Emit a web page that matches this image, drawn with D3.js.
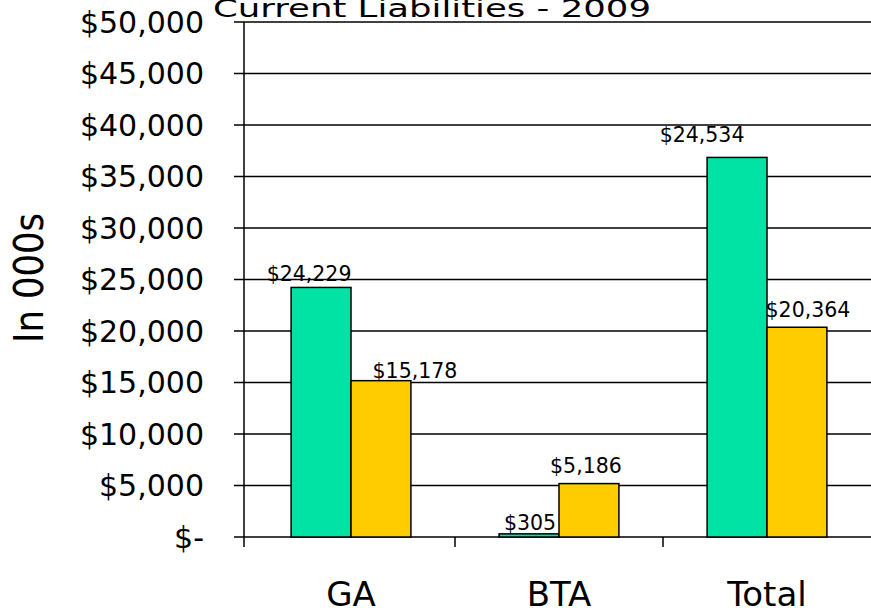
<!DOCTYPE html>
<html>
<head>
<meta charset="utf-8">
<script src="https://cdn.jsdelivr.net/npm/d3@7"></script>
<style>
  body { margin: 0; background: #fff; }
  text { font-family: "DejaVu Sans", Verdana, sans-serif; fill: #000; }
</style>
</head>
<body>
<div id="barChart"></div>
<script>
// Chart values
const categories = ["GA", "BTA", "Total"];
const seriesNames = ["s1", "s2"];
const tealValues = [24229, 305, 36850];
const yellowValues = [15178, 5186, 20364];
const tealLabels = ["$24,229", "$305", "$24,534"];
const yellowLabels = ["$15,178", "$5,186", "$20,364"];
const yTicks = [0, 5000, 10000, 15000, 20000, 25000, 30000, 35000, 40000, 45000, 50000];
const chartTitle = "Current Liabilities - 2009";
const yTitle = "In 000s";

// Label nudges (the labels were hand placed in the original)
const tealNudge = [[-12, -6], [1, -4], [-35, -15]];
const yellowNudge = [[34, -3], [-3, -11], [11, -10]];

const colors = { s1: "#00e3a5", s2: "#ffcc00" };

const W = 871, H = 613;
const axisX = 244;

function createBarChart() {
  const svg = d3.select("#barChart")
    .append("svg")
    .attr("width", W)
    .attr("height", H);

  const yScale = d3.scaleLinear().domain([0, 50000]).range([537, 22]);

  const xScale = d3.scaleBand().domain(categories).range([247, 871]);
  const bw = xScale.bandwidth();
  const barW = bw * 0.288;
  const xSub = d3.scaleBand().domain(seriesNames)
    .range([bw / 2 - barW, bw / 2 + barW]);

  // title (cut off at the top in the original)
  svg.append("text")
    .attr("x", 213)
    .attr("y", 17)
    .attr("textLength", 438)
    .attr("lengthAdjust", "spacingAndGlyphs")
    .style("font-size", "24px")
    .text(chartTitle);

  // gridlines + y ticks
  svg.append("g")
    .selectAll("line")
    .data(yTicks)
    .enter()
    .append("line")
    .attr("x1", axisX - 10)
    .attr("x2", W)
    .attr("y1", d => yScale(d))
    .attr("y2", d => yScale(d))
    .attr("stroke", "#000")
    .attr("stroke-width", 1.5);

  // y tick labels
  svg.append("g")
    .selectAll("text")
    .data(yTicks)
    .enter()
    .append("text")
    .attr("x", 204)
    .attr("y", d => yScale(d))
    .attr("dy", "0.36em")
    .attr("text-anchor", "end")
    .style("font-size", "30px")
    .text(d => d === 0 ? "$-" : "$" + d3.format(",")(d));

  // y axis line
  svg.append("line")
    .attr("x1", axisX).attr("x2", axisX)
    .attr("y1", yScale(50000)).attr("y2", yScale(0) + 10)
    .attr("stroke", "#000")
    .attr("stroke-width", 1.5);

  // x category ticks
  svg.append("g")
    .selectAll("line")
    .data(categories.slice(1))
    .enter()
    .append("line")
    .attr("x1", d => xScale(d)).attr("x2", d => xScale(d))
    .attr("y1", yScale(0)).attr("y2", yScale(0) + 10)
    .attr("stroke", "#000")
    .attr("stroke-width", 1.5);

  const rows = categories.map((c, i) => ({
    cat: c,
    bars: [
      { key: "s1", value: tealValues[i], label: tealLabels[i], nudge: tealNudge[i] },
      { key: "s2", value: yellowValues[i], label: yellowLabels[i], nudge: yellowNudge[i] }
    ]
  }));

  const groups = svg.selectAll(".group")
    .data(rows)
    .enter()
    .append("g")
    .attr("class", "group")
    .attr("transform", d => `translate(${xScale(d.cat)},0)`);

  groups.selectAll("rect")
    .data(d => d.bars)
    .enter()
    .append("rect")
    .attr("x", d => xSub(d.key))
    .attr("y", d => yScale(d.value))
    .attr("width", xSub.bandwidth())
    .attr("height", d => yScale(0) - yScale(d.value))
    .attr("fill", d => colors[d.key])
    .attr("stroke", "#000")
    .attr("stroke-width", 1.5);

  groups.selectAll(".val")
    .data(d => d.bars)
    .enter()
    .append("text")
    .attr("class", "val")
    .attr("x", d => xSub(d.key) + xSub.bandwidth() / 2 + d.nudge[0])
    .attr("y", d => yScale(d.value) + d.nudge[1])
    .attr("text-anchor", "middle")
    .style("font-size", "20.5px")
    .text(d => d.label);

  // category labels
  svg.append("g")
    .selectAll("text")
    .data(categories)
    .enter()
    .append("text")
    .attr("x", d => xScale(d) + bw / 2)
    .attr("y", 606)
    .attr("text-anchor", "middle")
    .style("font-size", "34px")
    .text(d => d);

  // y axis title
  svg.append("text")
    .attr("transform", "translate(43,278) rotate(-90)")
    .attr("text-anchor", "middle")
    .attr("textLength", 130)
    .attr("lengthAdjust", "spacingAndGlyphs")
    .style("font-size", "41px")
    .text(yTitle);
}

createBarChart();
</script>
</body>
</html>
